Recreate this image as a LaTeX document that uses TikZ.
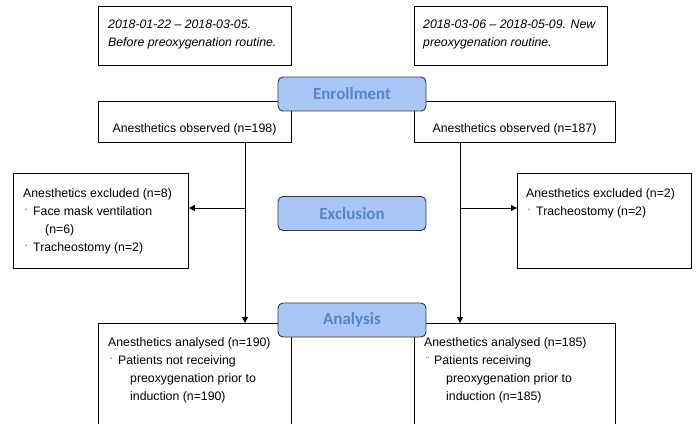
\documentclass[tikz,border=0pt]{standalone}
\usepackage{fontspec}
\setmainfont{Liberation Sans}
\newfontfamily\bannerfont{Carlito}
\usetikzlibrary{arrows.meta}
\definecolor{bannerfill}{RGB}{168,198,246}
\definecolor{bannertext}{RGB}{88,133,200}
\definecolor{bannerdraw}{RGB}{55,55,60}
\newcommand{\bulA}{\hspace*{2pt}\makebox[8pt][l]{\raisebox{4pt}{\fontsize{7}{7}\selectfont -}}}
\newcommand{\bulB}{\hspace*{2pt}\makebox[8pt][l]{\raisebox{1pt}{\fontsize{9}{9}\selectfont ¨}}}
\newcommand{\cont}{\hspace*{22pt}}
\begin{document}
\begin{tikzpicture}[x=1pt,y=-1pt,
  box/.style={draw=black, line width=0.8pt, inner sep=0, anchor=north west},
  banner/.style={draw=bannerdraw, fill=bannerfill, rounded corners=5pt, line width=0.9pt,
    minimum width=148pt, minimum height=34pt, inner sep=0,
    font=\bannerfont\bfseries\fontsize{17}{20}\selectfont, text=bannertext},
  txt/.style={anchor=base west, inner sep=0, align=left, font=\fontsize{12.3}{18}\selectfont},
  ctxt/.style={anchor=base, inner sep=0, font=\fontsize{12.3}{18}\selectfont},
  conn/.style={line width=0.8pt, -{Triangle[length=6pt,width=6pt]}}
]
\useasboundingbox (0,0) rectangle (696,423);
\clip (0,0) rectangle (696,423);

% boxes
\node[box, minimum width=193pt, minimum height=59pt] (dateL) at (98,6) {};
\node[box, minimum width=193pt, minimum height=59pt] (dateR) at (414,6) {};
\node[box, minimum width=193pt, minimum height=41pt] (obsL) at (98,101) {};
\node[box, minimum width=201pt, minimum height=41pt] (obsR) at (414,101) {};
\node[box, minimum width=175pt, minimum height=95pt] (exL) at (13,173) {};
\node[box, minimum width=174pt, minimum height=95pt] (exR) at (517,173) {};
\node[box, minimum width=193pt, minimum height=130pt] (anL) at (98,323) {};
\node[box, minimum width=201pt, minimum height=130pt] (anR) at (414,323) {};

% texts (base anchor = baseline of the last line)
\node[txt, font=\fontsize{12.3}{18}\selectfont\itshape] (tdateL) at (108,46.5)
  {2018-01-22 – 2018-03-05.\\Before preoxygenation routine.};
\node[txt, font=\fontsize{12.3}{18}\selectfont\itshape] (tdateR) at (423,46.5)
  {2018-03-06 – 2018-05-09. New\\preoxygenation routine.};
\node[ctxt] (tobsL) at (194.5,132.5) {Anesthetics observed (n=198)};
\node[ctxt] (tobsR) at (514.5,132.5) {Anesthetics observed (n=187)};
\node[txt] (texL) at (23,251.5)
  {Anesthetics excluded (n=8)\\\bulA Face mask ventilation\\\cont(n=6)\\\bulA Tracheostomy (n=2)};
\node[txt] (texR) at (526,215.5)
  {Anesthetics excluded (n=2)\\\bulA Tracheostomy (n=2)};
\node[txt] (tanL) at (108,400.5)
  {Anesthetics analysed (n=190)\\\bulA Patients not receiving\\\cont preoxygenation prior to\\\cont induction (n=190)};
\node[txt] (tanR) at (424,400.5)
  {Anesthetics analysed (n=185)\\\bulB Patients receiving\\\cont preoxygenation prior to\\\cont induction (n=185)};

% connectors
\coordinate (lx) at (245,0);
\coordinate (rx) at (460,0);
\coordinate (exLpt) at (245,208);
\coordinate (exRpt) at (460,208);
\draw[conn] (obsL.south -| lx) -- (anL.north -| lx);
\draw[conn] (obsR.south -| rx) -- (anR.north -| rx);
\draw[conn] (exLpt) -- (exLpt -| exL.east);
\draw[conn] (exRpt) -- (exRpt -| exR.west);

% banners
\node[banner] (enr) at (352,94) {Enrollment};
\node[banner] (exc) at (352,213.5) {Exclusion};
\node[banner] (ana) at (352,320) {Analysis};
\end{tikzpicture}
\end{document}
